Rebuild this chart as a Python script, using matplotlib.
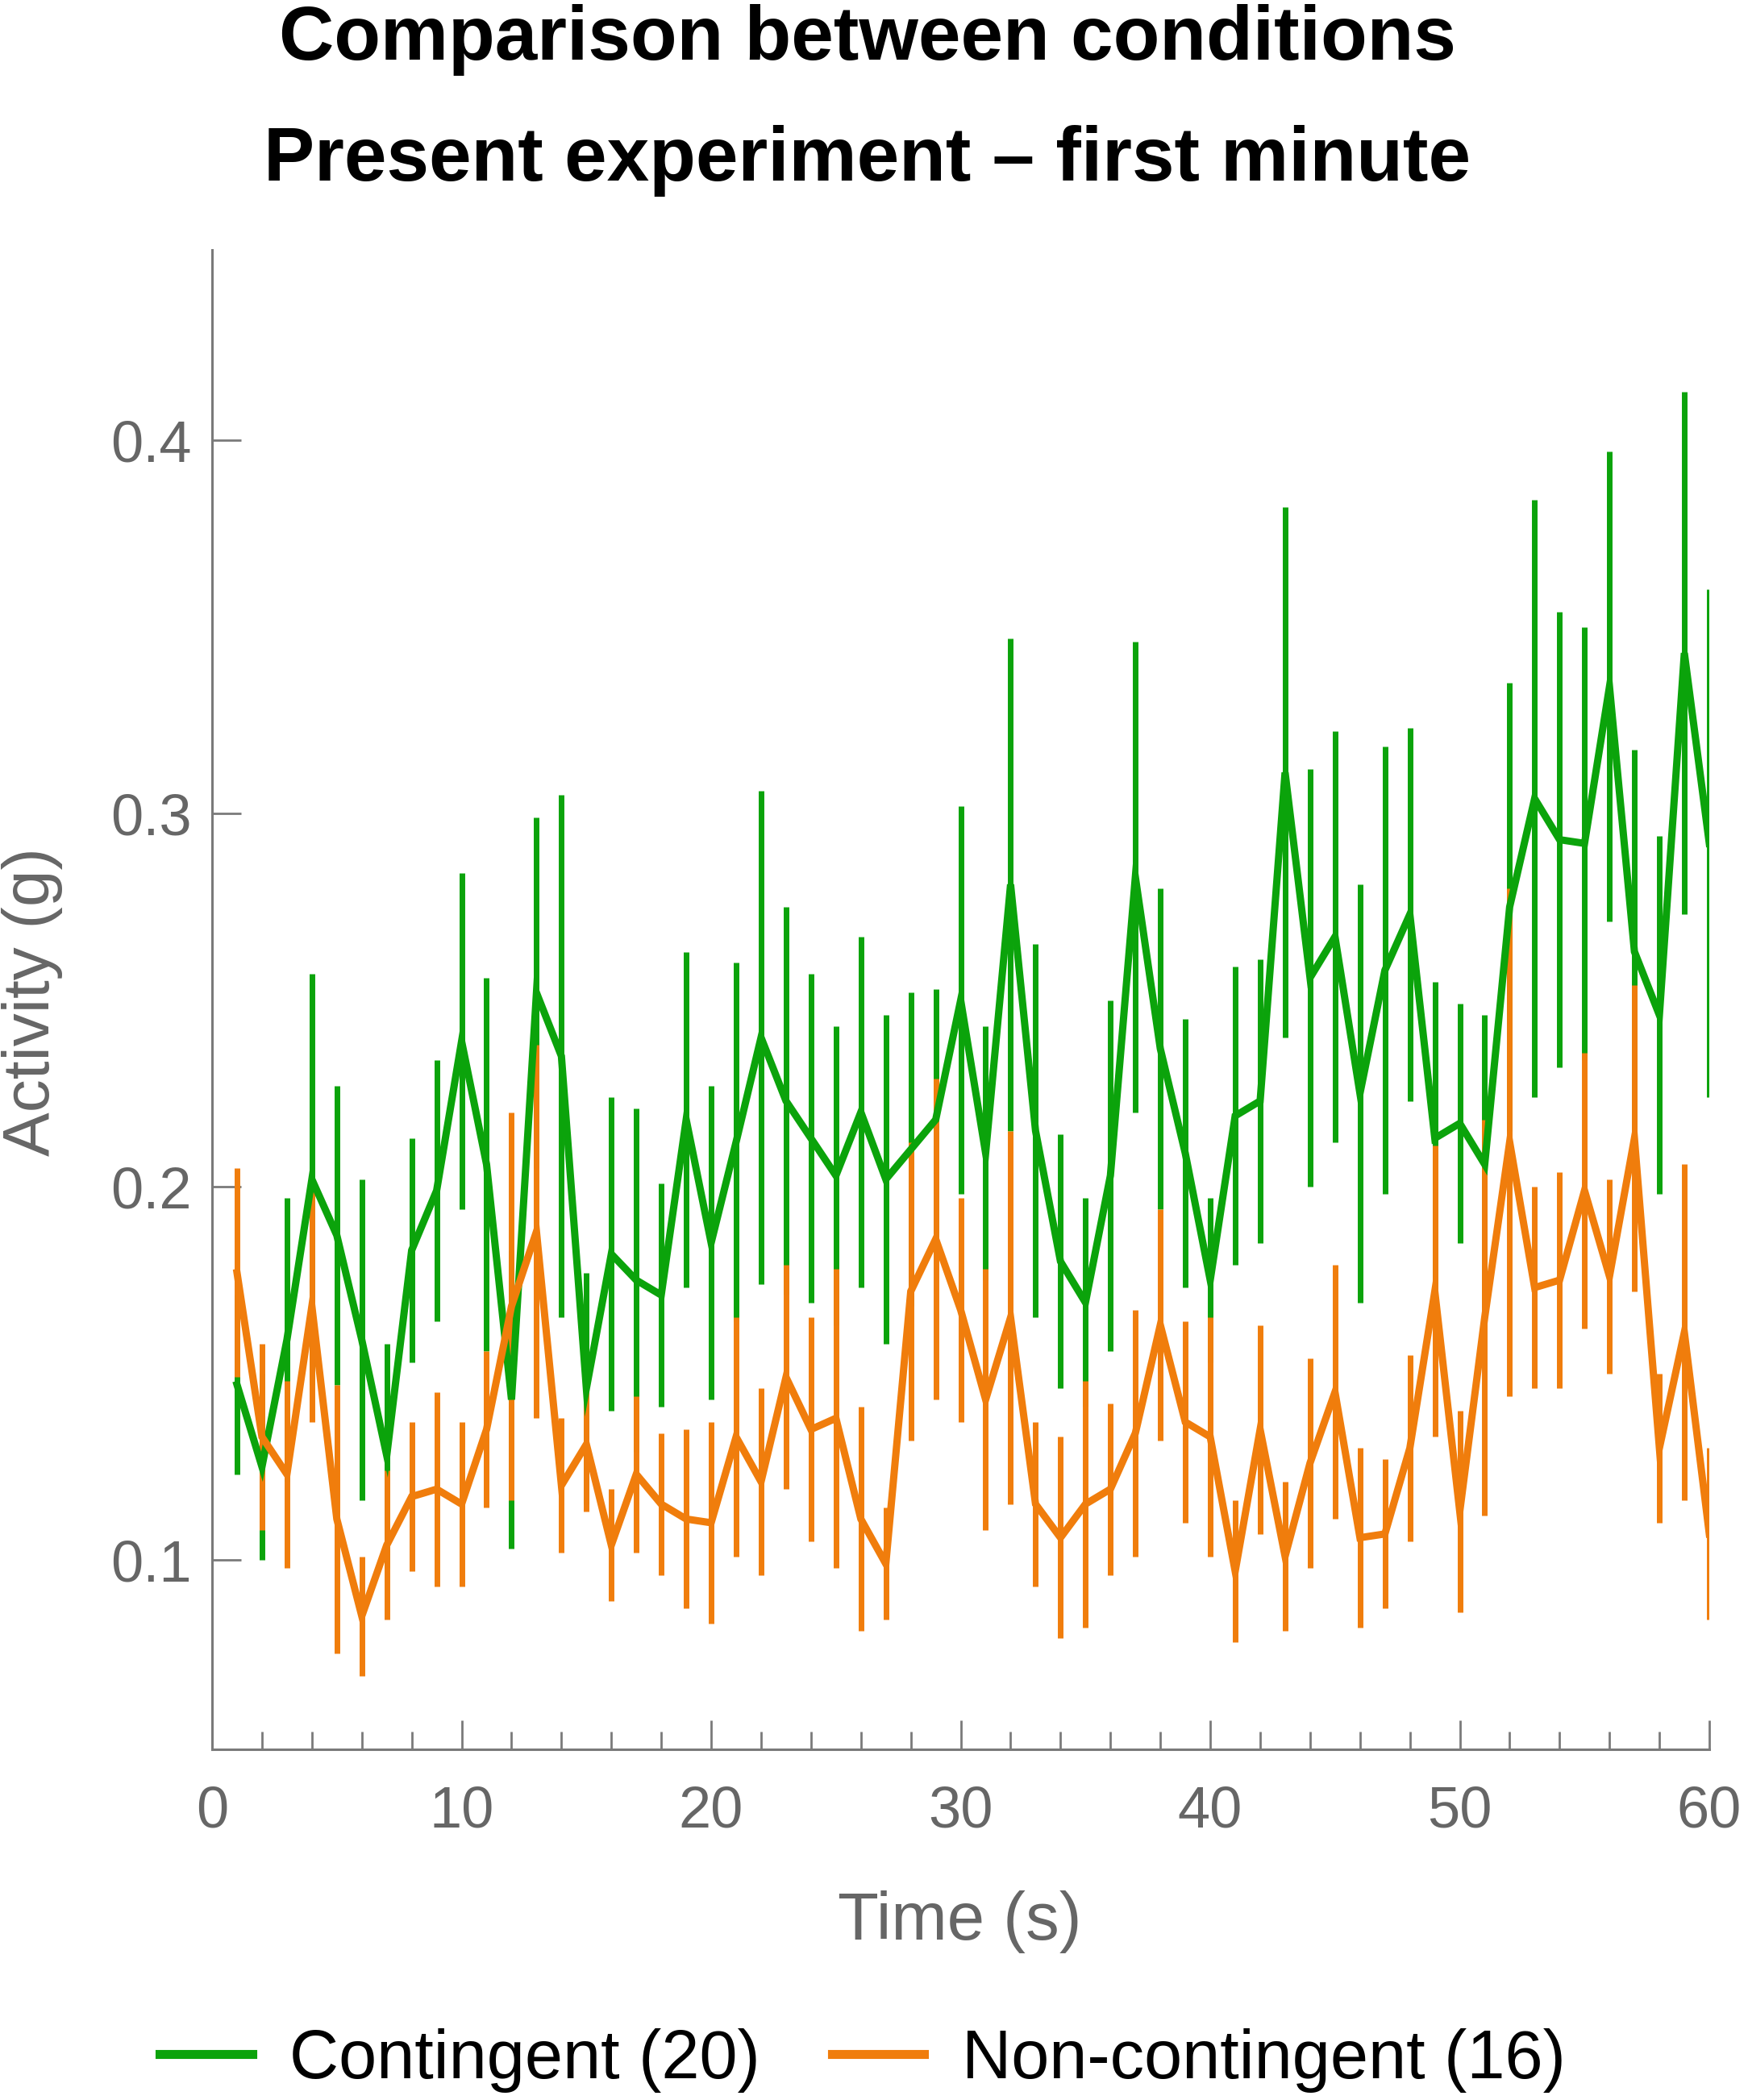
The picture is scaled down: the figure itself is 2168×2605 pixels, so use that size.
import matplotlib
matplotlib.use("Agg")
import matplotlib.pyplot as plt
from matplotlib.ticker import MultipleLocator, FuncFormatter
from matplotlib.lines import Line2D
import numpy as np

time_s = list(range(1, 61))

contingent_mean = [0.147, 0.125, 0.159, 0.202, 0.187, 0.159, 0.128, 0.183, 0.199, 0.239,
                   0.206, 0.143, 0.252, 0.235, 0.146, 0.182, 0.175, 0.171, 0.218, 0.185,
                   0.212, 0.240, 0.223, 0.213, 0.203, 0.220, 0.202, 0.210, 0.218, 0.250,
                   0.209, 0.281, 0.215, 0.180, 0.169, 0.203, 0.283, 0.237, 0.209, 0.175,
                   0.219, 0.223, 0.311, 0.256, 0.267, 0.225, 0.258, 0.273, 0.213, 0.217,
                   0.206, 0.275, 0.304, 0.293, 0.292, 0.334, 0.263, 0.246, 0.343, 0.292]
contingent_err = [0.024, 0.025, 0.038, 0.055, 0.040, 0.043, 0.030, 0.030, 0.035, 0.045,
                  0.050, 0.040, 0.047, 0.070, 0.031, 0.042, 0.046, 0.030, 0.045, 0.042,
                  0.048, 0.066, 0.052, 0.044, 0.040, 0.047, 0.044, 0.042, 0.035, 0.052,
                  0.034, 0.066, 0.050, 0.034, 0.028, 0.047, 0.063, 0.043, 0.036, 0.022,
                  0.040, 0.038, 0.071, 0.056, 0.055, 0.056, 0.060, 0.050, 0.042, 0.032,
                  0.040, 0.060, 0.080, 0.061, 0.058, 0.063, 0.054, 0.048, 0.070, 0.068]

noncontingent_mean = [0.177, 0.133, 0.123, 0.168, 0.111, 0.085, 0.104, 0.117, 0.119, 0.115,
                      0.135, 0.168, 0.188, 0.120, 0.131, 0.104, 0.123, 0.115, 0.111, 0.110,
                      0.133, 0.121, 0.149, 0.135, 0.138, 0.111, 0.099, 0.172, 0.186, 0.167,
                      0.143, 0.165, 0.115, 0.106, 0.115, 0.119, 0.134, 0.163, 0.137, 0.133,
                      0.097, 0.135, 0.101, 0.126, 0.145, 0.106, 0.107, 0.130, 0.172, 0.113,
                      0.165, 0.212, 0.173, 0.175, 0.199, 0.176, 0.213, 0.130, 0.161, 0.107]
noncontingent_err = [0.028, 0.025, 0.025, 0.031, 0.036, 0.016, 0.020, 0.020, 0.026, 0.022,
                     0.021, 0.052, 0.050, 0.018, 0.018, 0.015, 0.021, 0.019, 0.024, 0.027,
                     0.032, 0.025, 0.030, 0.030, 0.040, 0.030, 0.015, 0.040, 0.043, 0.030,
                     0.035, 0.050, 0.022, 0.027, 0.033, 0.023, 0.033, 0.031, 0.027, 0.032,
                     0.019, 0.028, 0.020, 0.028, 0.034, 0.024, 0.020, 0.025, 0.039, 0.027,
                     0.053, 0.068, 0.027, 0.029, 0.037, 0.026, 0.041, 0.020, 0.045, 0.023]

series_labels = ["Contingent (20)", "Non-contingent (16)"]
title_lines = ["Comparison between conditions", "Present experiment \u2013 first minute"]
x_label = "Time (s)"
y_label = "Activity (g)"

GREEN = "#0BA30B"
ORANGE = "#F07D0C"
GRAY = "#666666"
AXGRAY = "#7a7a7a"
FONT = ["Liberation Sans", "DejaVu Sans"]

W, H = 2168, 2605
fig = plt.figure(figsize=(W / 100, H / 100), dpi=100)
ax = fig.add_axes([263 / W, 1 - 2170 / H, (2120 - 263) / W, (2170 - 310) / H])

t = np.array(time_s)
ax.errorbar(t, contingent_mean, yerr=contingent_err, fmt="none", ecolor=GREEN,
            elinewidth=5.0, capsize=0, zorder=2)
ax.errorbar(t, noncontingent_mean, yerr=noncontingent_err, fmt="none", ecolor=ORANGE,
            elinewidth=5.0, capsize=0, zorder=3)
ax.plot(t, contingent_mean, color=GREEN, lw=6.5, zorder=4, solid_joinstyle="miter")
ax.plot(t, noncontingent_mean, color=ORANGE, lw=6.5, zorder=5, solid_joinstyle="miter")

ax.set_xlim(0, 60)
ax.set_ylim(0.0493, 0.451)
for s in ["top", "right"]:
    ax.spines[s].set_visible(False)
for s in ["left", "bottom"]:
    ax.spines[s].set_color(AXGRAY)
    ax.spines[s].set_linewidth(2.2)

ax.xaxis.set_major_locator(MultipleLocator(10))
ax.xaxis.set_minor_locator(MultipleLocator(2))
ax.yaxis.set_major_locator(MultipleLocator(0.1))
ax.yaxis.set_major_formatter(FuncFormatter(lambda v, p: f"{v:.1f}"))
ax.tick_params(axis="both", which="major", direction="in", color=AXGRAY, width=2.0,
               labelcolor=GRAY, labelsize=52)
ax.tick_params(axis="x", which="major", length=26, pad=32)
ax.tick_params(axis="x", which="minor", direction="in", length=16, width=2.0, color=AXGRAY)
ax.tick_params(axis="y", which="major", length=26, pad=18)
for lab in ax.get_xticklabels() + ax.get_yticklabels():
    lab.set_family(FONT)

fig.text(1190 / W, 1 - 2384 / H, x_label, ha="center", va="center", fontsize=60,
         color=GRAY, family=FONT)
fig.text(40 / W, 1 - 1243 / H, y_label, ha="center", va="center", fontsize=59,
         color=GRAY, family=FONT, rotation=90)

fig.text(1076 / W, 1 - 50 / H, title_lines[0], ha="center", va="center", fontsize=68,
         fontweight="bold", family=FONT, color="black")
fig.text(1076 / W, 1 - 200 / H, title_lines[1], ha="center", va="center", fontsize=68,
         fontweight="bold", family=FONT, color="black")

handles = [Line2D([], [], color=GREEN, lw=8), Line2D([], [], color=ORANGE, lw=8)]
fig.legend(handles, series_labels, loc="center", bbox_to_anchor=(1070 / W, 1 - 2556 / H),
           ncol=2, frameon=False, handlelength=1.35, handletextpad=0.55, columnspacing=1.05,
           prop={"family": FONT, "size": 61})

fig.savefig("out.png", dpi=100, facecolor="white")
